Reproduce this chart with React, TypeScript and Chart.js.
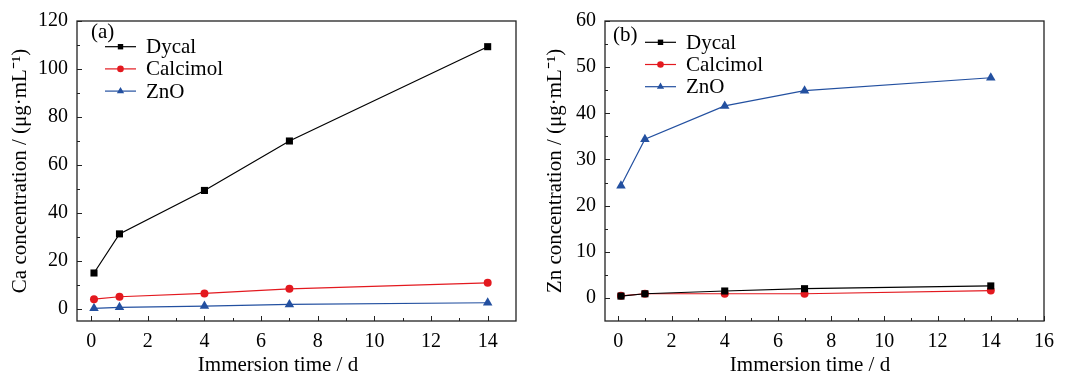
import React, { useEffect, useRef } from 'react';
import { Chart, registerables } from 'chart.js';

Chart.register(...registerables);

// ---------- data ----------
const days = [0.1, 1, 4, 7, 14];
const seriesNames = ['Dycal', 'Calcimol', 'ZnO'];

const caDycal = [15, 31.3, 49.4, 70, 109.3];
const caCalcimol = [4.1, 5.1, 6.5, 8.4, 10.9];
const caZnO = [0.3, 0.7, 1.2, 1.9, 2.6];

const znDycal = [0.4, 0.9, 1.5, 2.0, 2.6];
const znCalcimol = [0.45, 0.9, 0.9, 0.9, 1.6];
const znZnO = [24.3, 34.4, 41.6, 44.9, 47.7];

const xTicksA = [0, 2, 4, 6, 8, 10, 12, 14];
const xMinorA = [1, 3, 5, 7, 9, 11, 13];
const yTicksA = [0, 20, 40, 60, 80, 100, 120];
const yMinorA = [10, 30, 50, 70, 90, 110];

const xTicksB = [0, 2, 4, 6, 8, 10, 12, 14, 16];
const xMinorB = [1, 3, 5, 7, 9, 11, 13, 15];
const yTicksB = [0, 10, 20, 30, 40, 50, 60];
const yMinorB = [5, 15, 25, 35, 45, 55];

const colors = ['#000000', '#e3191f', '#2350a0'];
const pointStyles = ['rect', 'circle', 'triangle'];
const pointRadii = [5, 4, 5.5];

const FONT = '"Liberation Serif", "Times New Roman", serif';

type PanelCfg = {
  label: string;
  xTitle: string;
  yTitle: string;
  series: number[][];
  xMin: number;
  xMax: number;
  yMin: number;
  yMax: number;
  xTicks: number[];
  xMinor: number[];
  yTicks: number[];
  yMinor: number[];
  yAxisWidth: number;
  padRight: number;
  labelPos: [number, number];
  legendPos: [number, number, number];
  legendGap: number;
  xTitleX: number;
  yTitleX: number;
};

const decorPlugin = {
  id: 'decor',
  afterDraw(chart: any, _args: any, opts: any) {
    const { ctx, chartArea: a, scales } = chart;
    const xs = scales.x;
    const ys = scales.y;
    ctx.save();
    ctx.strokeStyle = '#222';
    ctx.lineWidth = 1;
    // inward ticks
    const tick = (px: number, py: number, dx: number, dy: number) => {
      ctx.beginPath();
      ctx.moveTo(px, py);
      ctx.lineTo(px + dx, py + dy);
      ctx.stroke();
    };
    opts.xTicks.forEach((v: number) => tick(Math.round(xs.getPixelForValue(v)) + 0.5, a.bottom, 0, -5));
    opts.xMinor.forEach((v: number) => tick(Math.round(xs.getPixelForValue(v)) + 0.5, a.bottom, 0, -3));
    opts.yTicks.forEach((v: number) => tick(a.left, Math.round(ys.getPixelForValue(v)) + 0.5, 5, 0));
    opts.yMinor.forEach((v: number) => tick(a.left, Math.round(ys.getPixelForValue(v)) + 0.5, 3, 0));
    // frame
    ctx.lineWidth = 1.3;
    ctx.strokeRect(a.left, a.top, a.right - a.left, a.bottom - a.top);

    ctx.fillStyle = '#000';
    // panel label
    ctx.font = `21px ${FONT}`;
    ctx.textAlign = 'left';
    ctx.textBaseline = 'middle';
    ctx.fillText(opts.label, opts.labelPos[0], opts.labelPos[1]);

    // legend
    const [lx, ly, lineLen] = opts.legendPos;
    chart.data.datasets.forEach((ds: any, i: number) => {
      const cy = ly + i * opts.legendGap;
      ctx.strokeStyle = ds.borderColor;
      ctx.lineWidth = 1.2;
      ctx.beginPath();
      ctx.moveTo(lx, cy);
      ctx.lineTo(lx + lineLen, cy);
      ctx.stroke();
      const mx = lx + lineLen / 2;
      ctx.fillStyle = ds.borderColor;
      ctx.beginPath();
      if (ds.pointStyle === 'rect') {
        ctx.rect(mx - 2.7, cy - 2.7, 5.4, 5.4);
      } else if (ds.pointStyle === 'circle') {
        ctx.arc(mx, cy, 3.3, 0, Math.PI * 2);
      } else {
        const r = 4.2;
        ctx.moveTo(mx, cy - r);
        ctx.lineTo(mx + r * 0.866, cy + r * 0.5);
        ctx.lineTo(mx - r * 0.866, cy + r * 0.5);
        ctx.closePath();
      }
      ctx.fill();
      ctx.fillStyle = '#000';
      ctx.font = `21px ${FONT}`;
      ctx.textBaseline = 'middle';
      ctx.textAlign = 'left';
      ctx.fillText(ds.label, lx + lineLen + 10, cy + 1);
    });

    // axis titles
    ctx.fillStyle = '#000';
    ctx.font = `21px ${FONT}`;
    ctx.textAlign = 'center';
    ctx.textBaseline = 'alphabetic';
    ctx.fillText(opts.xTitle, opts.xTitleX, 370.5);

    ctx.save();
    ctx.translate(opts.yTitleX, (a.top + a.bottom) / 2);
    ctx.rotate(-Math.PI / 2);
    ctx.textBaseline = 'middle';
    ctx.fillText(opts.yTitle, 0, 0);
    ctx.restore();

    ctx.restore();
  },
};

function Panel({ cfg, left }: { cfg: PanelCfg; left: number }) {
  const ref = useRef<HTMLCanvasElement | null>(null);
  useEffect(() => {
    if (!ref.current) return;
    const datasets = cfg.series.map((vals, i) => ({
      label: seriesNames[i],
      data: days.map((d, j) => ({ x: d, y: vals[j] })),
      borderColor: colors[i],
      backgroundColor: colors[i],
      borderWidth: 1.2,
      pointStyle: pointStyles[i],
      pointRadius: pointRadii[i],
      pointBorderWidth: 0,
      pointBackgroundColor: colors[i],
      tension: 0,
    }));
    const chart = new Chart(ref.current, {
      type: 'line',
      data: { datasets },
      options: {
        animation: false,
        responsive: false,
        devicePixelRatio: 1,
        layout: { padding: { top: 19, right: cfg.padRight, left: 0, bottom: 0 } },
        plugins: {
          legend: { display: false },
          tooltip: { enabled: false },
          decor: cfg as any,
        } as any,
        scales: {
          x: {
            type: 'linear',
            min: cfg.xMin,
            max: cfg.xMax,
            afterBuildTicks: (s: any) => {
              s.ticks = cfg.xTicks.map((v) => ({ value: v }));
            },
            afterFit: (s: any) => {
              s.height = 55;
            },
            grid: { display: false, drawTicks: false },
            border: { display: false },
            ticks: {
              padding: 9,
              color: '#000',
              font: { family: FONT, size: 20 },
              maxRotation: 0,
              autoSkip: false,
            },
          },
          y: {
            type: 'linear',
            min: cfg.yMin,
            max: cfg.yMax,
            afterBuildTicks: (s: any) => {
              s.ticks = cfg.yTicks.map((v) => ({ value: v }));
            },
            afterFit: (s: any) => {
              s.width = cfg.yAxisWidth;
            },
            grid: { display: false, drawTicks: false },
            border: { display: false },
            ticks: {
              padding: 9,
              color: '#000',
              font: { family: FONT, size: 20 },
              autoSkip: false,
            },
          },
        },
      } as any,
      plugins: [decorPlugin],
    });
    return () => chart.destroy();
  }, []);
  return (
    <canvas
      ref={ref}
      width={538}
      height={376}
      style={{ position: 'absolute', left, top: 0, width: 538, height: 376, display: 'block' }}
    />
  );
}

const panelA: PanelCfg = {
  label: '(a)',
  xTitle: 'Immersion time / d',
  yTitle: 'Ca concentration / (μg·mL⁻¹)',
  series: [caDycal, caCalcimol, caZnO],
  xMin: -0.5,
  xMax: 15,
  yMin: -5,
  yMax: 120,
  xTicks: xTicksA,
  xMinor: xMinorA,
  yTicks: yTicksA,
  yMinor: yMinorA,
  yAxisWidth: 77,
  padRight: 22,
  labelPos: [91, 32],
  legendPos: [105, 46.7, 31],
  legendGap: 22.2,
  xTitleX: 278,
  yTitleX: 20,
};

const panelB: PanelCfg = {
  label: '(b)',
  xTitle: 'Immersion time / d',
  yTitle: 'Zn concentration / (μg·mL⁻¹)',
  series: [znDycal, znCalcimol, znZnO],
  xMin: -0.5,
  xMax: 16,
  yMin: -5,
  yMax: 60,
  xTicks: xTicksB,
  xMinor: xMinorB,
  yTicks: yTicksB,
  yMinor: yMinorB,
  yAxisWidth: 67,
  padRight: 32,
  labelPos: [75, 35],
  legendPos: [107, 42.3, 31],
  legendGap: 22.2,
  xTitleX: 272,
  yTitleX: 17.5,
};

export default function App() {
  return (
    <div style={{ position: 'absolute', left: 0, top: 0, width: 1076, height: 376, background: '#fff' }}>
      <Panel cfg={panelA} left={0} />
      <Panel cfg={panelB} left={538} />
    </div>
  );
}
